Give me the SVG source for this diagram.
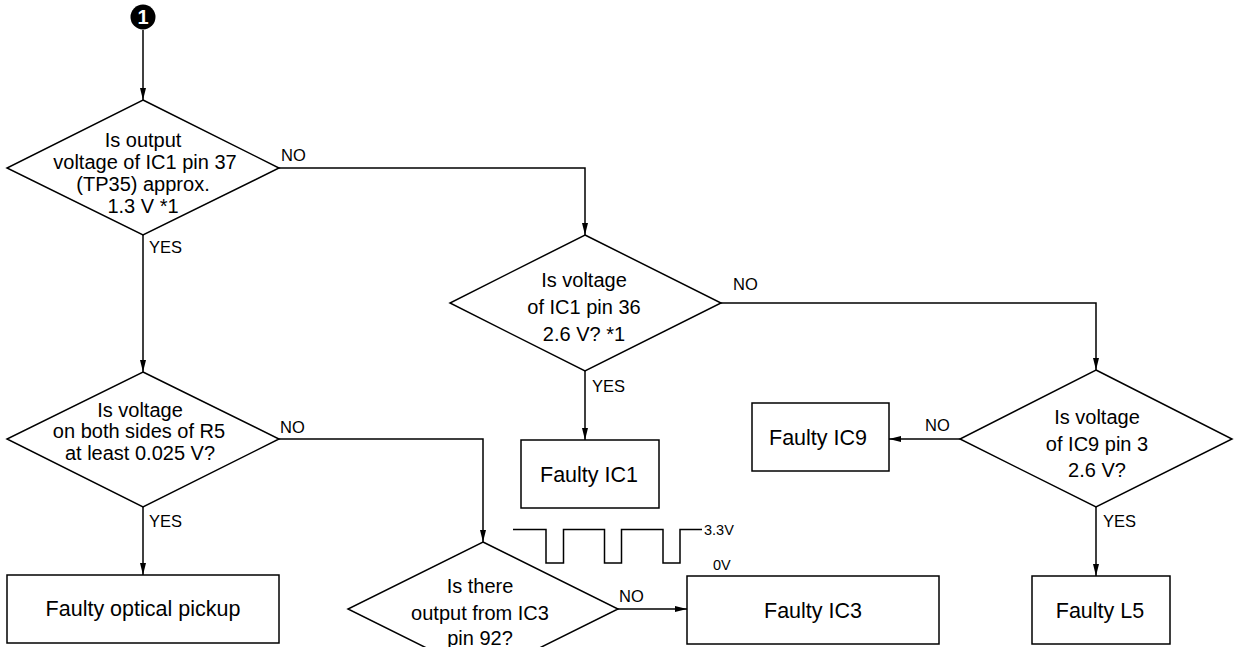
<svg xmlns="http://www.w3.org/2000/svg" width="1239" height="647" viewBox="0 0 1239 647">
<style>
.s{fill:#fff;stroke:#000;stroke-width:1.5}
.c{fill:none;stroke:#000;stroke-width:1.5}
.t{font-family:"Liberation Sans",Arial,sans-serif;font-size:20px;fill:#000;text-anchor:middle}
.b{font-family:"Liberation Sans",Arial,sans-serif;font-size:21.5px;fill:#000;text-anchor:middle}
.l{font-family:"Liberation Sans",Arial,sans-serif;font-size:16.5px;fill:#000}
.w{font-family:"Liberation Sans",Arial,sans-serif;font-size:14.5px;fill:#000}
</style>
<defs>
<marker id="ah" viewBox="0 0 12 6" refX="12" refY="3" markerWidth="12" markerHeight="6" markerUnits="userSpaceOnUse" orient="auto">
<path d="M0,0 L12,3 L0,6 z" fill="#000"/>
</marker>
</defs>
<rect width="1239" height="647" fill="#fff"/>
<g id="connectors">
<path class="c" d="M143,30 V100" marker-end="url(#ah)"/>
<path class="c" d="M143,235 V372" marker-end="url(#ah)"/>
<path class="c" d="M279,168 H585 V235" marker-end="url(#ah)"/>
<path class="c" d="M585,371 V440" marker-end="url(#ah)"/>
<path class="c" d="M721,303 H1096 V370" marker-end="url(#ah)"/>
<path class="c" d="M960,439 H889" marker-end="url(#ah)"/>
<path class="c" d="M1096,507 V576" marker-end="url(#ah)"/>
<path class="c" d="M143,507 V575" marker-end="url(#ah)"/>
<path class="c" d="M279,439 H483 V542" marker-end="url(#ah)"/>
<path class="c" d="M618,609 H687" marker-end="url(#ah)"/>
<text class="l" x="281" y="161">NO</text>
<text class="l" x="149" y="253">YES</text>
<text class="l" x="733" y="290">NO</text>
<text class="l" x="592" y="392">YES</text>
<text class="l" x="925" y="431">NO</text>
<text class="l" x="1103" y="527">YES</text>
<text class="l" x="280" y="433">NO</text>
<text class="l" x="149" y="527">YES</text>
<text class="l" x="619" y="602">NO</text>
</g>
<g id="start">
<circle cx="143" cy="17" r="12.5" fill="#000"/>
<text x="143" y="24" font-family="Liberation Sans,Arial,sans-serif" font-size="20" font-weight="bold" fill="#fff" text-anchor="middle">1</text>
</g>
<g id="d1">
<polygon class="s" points="143,100 279,168 143,235 7,168"/>
<text class="t" x="143" y="147">Is output</text>
<text class="t" x="145" y="169">voltage of IC1 pin 37</text>
<text class="t" x="143" y="191">(TP35) approx.</text>
<text class="t" x="143" y="213">1.3 V *1</text>
</g>
<g id="d2">
<polygon class="s" points="585,235 721,303 585,371 450,303"/>
<text class="t" x="584" y="287">Is voltage</text>
<text class="t" x="584" y="314">of IC1 pin 36</text>
<text class="t" x="584" y="341">2.6 V? *1</text>
</g>
<g id="d3">
<polygon class="s" points="143,372 279,439 143,507 7,439"/>
<text class="t" x="140" y="417">Is voltage</text>
<text class="t" x="139" y="438">on both sides of R5</text>
<text class="t" x="140" y="460">at least 0.025 V?</text>
</g>
<g id="d4">
<polygon class="s" points="1096,370 1232,439 1096,507 960,439"/>
<text class="t" x="1097" y="424">Is voltage</text>
<text class="t" x="1097" y="451">of IC9 pin 3</text>
<text class="t" x="1097" y="477">2.6 V?</text>
</g>
<g id="d5">
<polygon class="s" points="483,542 618,609 483,676 348,609"/>
<text class="t" x="480" y="593">Is there</text>
<text class="t" x="480" y="620">output from IC3</text>
<text class="t" x="480" y="645">pin 92?</text>
</g>
<g id="b-ic1">
<rect class="s" x="521" y="440" width="138" height="68"/>
<text class="b" x="589" y="482">Faulty IC1</text>
</g>
<g id="b-ic9">
<rect class="s" x="752" y="403" width="137" height="68"/>
<text class="b" x="818" y="445">Faulty IC9</text>
</g>
<g id="b-l5">
<rect class="s" x="1032" y="576" width="138" height="68"/>
<text class="b" x="1100" y="618">Faulty L5</text>
</g>
<g id="b-pickup">
<rect class="s" x="7" y="575" width="272" height="68"/>
<text class="b" x="143" y="616">Faulty optical pickup</text>
</g>
<g id="b-ic3">
<rect class="s" x="687" y="576" width="252" height="68"/>
<text class="b" x="813" y="618">Faulty IC3</text>
</g>
<g id="waveform">
<path class="c" d="M513,529.5 H546 V563 H563.5 V529.5 H604.5 V563 H621.5 V529.5 H663 V563 H680 V529.5 H702"/>
<text class="w" x="704" y="535">3.3V</text>
<text class="w" x="713" y="570">0V</text>
</g>
</svg>
